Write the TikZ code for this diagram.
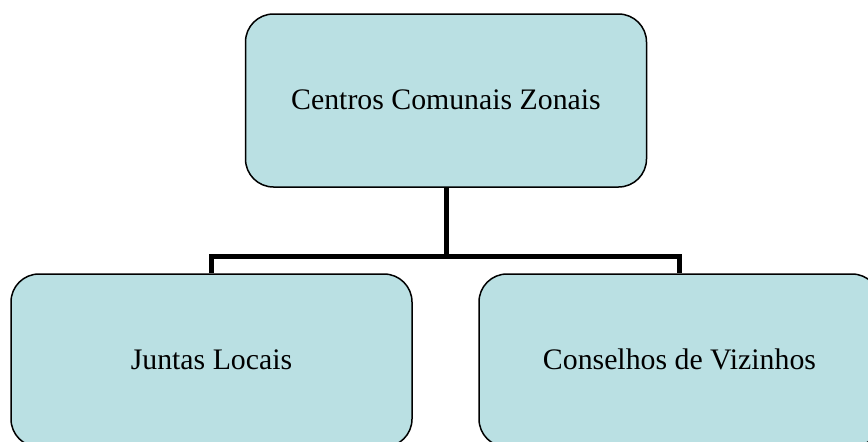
\documentclass[tikz,border=0pt]{standalone}
\usepackage{fontspec}
\setmainfont{Liberation Serif}
\definecolor{boxfill}{RGB}{186,224,227}
\begin{document}
\begin{tikzpicture}[x=1pt,y=1pt,
  orgbox/.style={draw=black, line width=1.5pt, fill=boxfill, rounded corners=28pt,
    minimum width=401pt, minimum height=173pt, inner sep=0pt, anchor=center,
    font=\fontsize{29.8}{34}\selectfont},
  conn/.style={draw=black, line width=5pt, line join=miter}]
\useasboundingbox (0,0) rectangle (868,-442);
\node[orgbox] (top) at (446,-100.5) {\raisebox{2pt}{Centros Comunais Zonais}};
\node[orgbox] (left) at (211.5,-360.5) {\raisebox{2pt}{Juntas Locais}};
\node[orgbox] (right) at (679.5,-360.5) {\raisebox{2pt}{Conselhos de Vizinhos}};
\coordinate (bar) at (446,-256);
\draw[conn] (top.south) -- (bar);
\draw[conn] (left.north) -- (left.north |- bar) -- (right.north |- bar) -- (right.north);
\end{tikzpicture}
\end{document}
